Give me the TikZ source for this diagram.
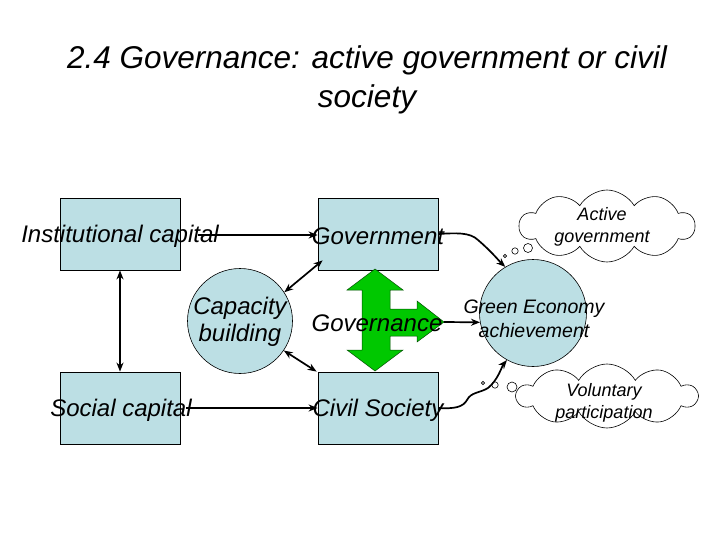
\documentclass[tikz,border=0pt]{standalone}
\usepackage{fontspec}
\setmainfont{Liberation Sans}
\usetikzlibrary{shapes.symbols,arrows.meta}
\definecolor{boxblue}{RGB}{188,223,228}
\definecolor{arrgreen}{RGB}{0,200,0}
\begin{document}
\begin{tikzpicture}[x=1pt,y=-1pt,
  box/.style={draw=black, line width=0.8pt, fill=boxblue, minimum width=120pt, minimum height=72pt, inner sep=0pt},
  disc/.style={circle, draw=black, line width=0.6pt, fill=boxblue, inner sep=0pt},
  lab/.style={font=\fontsize{24}{27}\selectfont\itshape, inner sep=0pt, align=center},
  smalllab/.style={font=\fontsize{19.5}{24}\selectfont\itshape, inner sep=0pt, align=center},
  cloudlab/.style={font=\fontsize{18}{22}\selectfont\itshape, inner sep=0pt, align=center},
  thought/.style={cloud, cloud puffs=10, cloud puff arc=120, aspect=2.4, draw=black, line width=0.6pt, fill=white, inner sep=0pt},
  bubble/.style={draw=black, line width=0.6pt, fill=white},
  conn/.style={line width=1.7pt, -{Stealth[length=9pt,width=7pt]}},
  dconn/.style={line width=1.7pt, {Stealth[length=9pt,width=7pt]}-{Stealth[length=9pt,width=7pt]}}]
\useasboundingbox (0,0) rectangle (720,540);
% title
\node[font=\fontsize{31.5}{39}\selectfont\itshape, align=center, inner sep=0pt] (title) at (367,80) {2.4 Governance: active government or civil\\society};
% boxes
\node[box] (ibox) at (120,234) {};
\node[box] (sbox) at (120,408) {};
\node[box] (gov) at (378,234) {};
\node[box] (civ) at (378,408) {};
\node[disc, minimum size=105pt] (cap) at (240,321) {};
\node[disc, minimum size=107pt] (green) at (533,313) {};
% clouds
\node[thought, minimum width=175pt, minimum height=72pt] (c1) at (607,226) {};
\node[thought, minimum width=180pt, minimum height=64pt] (c2) at (607,396) {};
\draw[bubble] (505,256) circle (1.6pt);
\draw[bubble] (515,251) circle (3.2pt);
\draw[bubble] (528,248) circle (4.5pt);
\draw[bubble] (483,383) circle (1.6pt);
\draw[bubble] (495,385) circle (3.2pt);
\draw[bubble] (512,387) circle (5pt);
% green arrow
\draw[fill=arrgreen, draw=black!70!green, line width=0.5pt]
  (375,269) -- (403,290) -- (390,290) -- (390,309) -- (417,309) -- (417,301) -- (444,322)
  -- (417,342) -- (417,336) -- (390,336) -- (390,350) -- (403,350) -- (375,371)
  -- (347,350) -- (362,350) -- (362,290) -- (347,290) -- cycle;
\coordinate (gtip) at (444,322);
% labels
\node[lab] (ilab) at (120,236) {Institutional capital};
\node[lab] (slab) at (121,410) {Social capital};
\node[lab] (glab) at (378,236) {Government};
\node[lab] (clab) at (378,410) {Civil Society};
\node[lab] (caplab) at (240,322) {Capacity\\building};
\node[lab] (govlab) at (377,323) {Governance};
\node[smalllab] (grlab) at (534,319) {Green Economy\\achievement};
\node[cloudlab] (c1lab) at (602,227) {Active\\government};
\node[cloudlab] (c2lab) at (604,403) {Voluntary\\participation};
% connectors
\coordinate (istart) at (198,235);
\coordinate (sstart) at (186,408);
\draw[conn] (istart) -- (gov.west |- istart);
\draw[conn] (sstart) -- (civ.west);
\draw[dconn] (ibox.south) -- (sbox.north);
\draw[dconn] (cap.33) -- ([xshift=5pt,yshift=10pt]gov.south west);
\draw[dconn] (cap.-34) -- ([xshift=-1pt]civ.north west);
\draw[conn] (gtip) -- (green.190);
\draw[conn] (gov.east) .. controls (455,233) and (470,232) .. (478,240) .. controls (492,252) and (500,262) .. (green.121);
\draw[conn] (civ.east) .. controls (455,409) and (463,407) .. (467,400) .. controls (471,392) and (480,393) .. (488,388) .. controls (498,380) and (502,366) .. (green.241);
\end{tikzpicture}
\end{document}
